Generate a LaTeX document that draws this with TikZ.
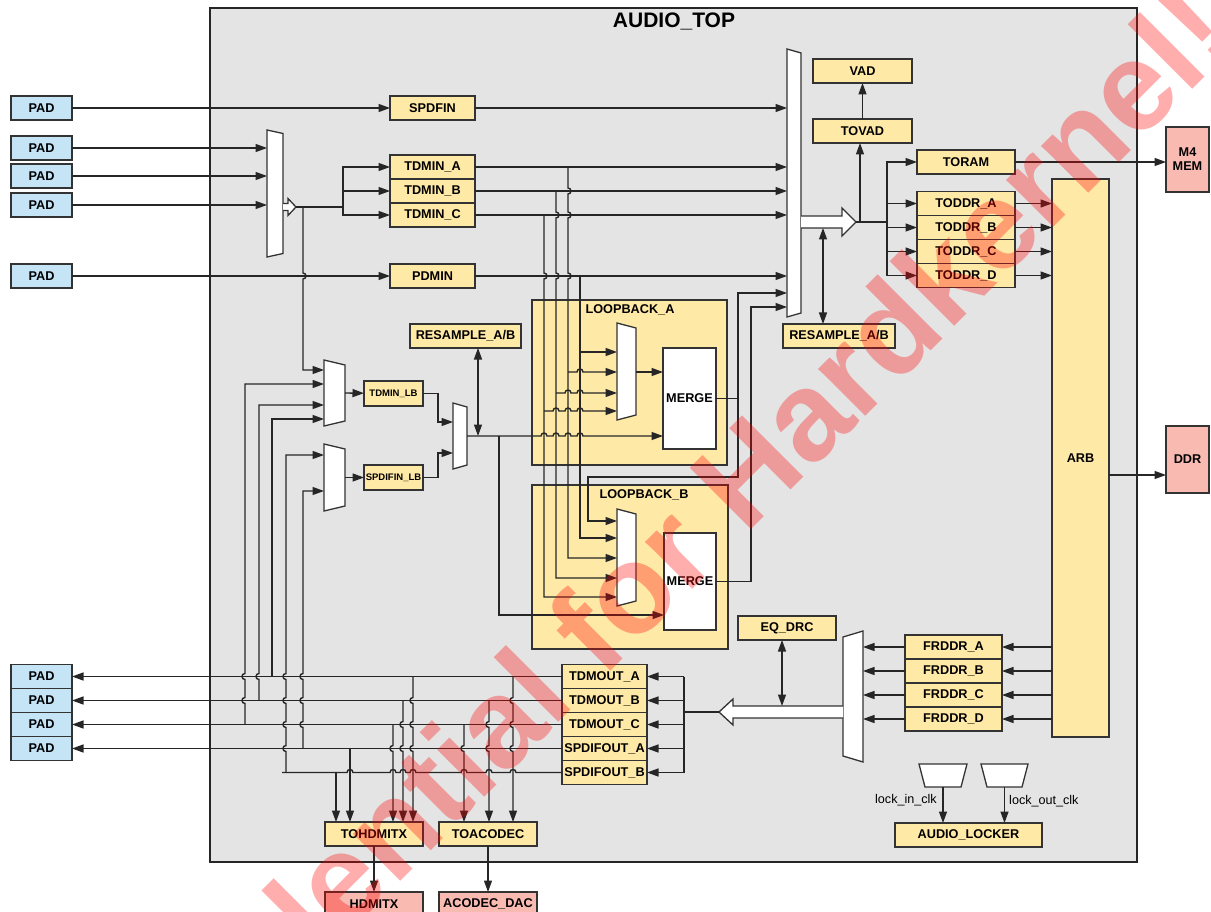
\documentclass[tikz,border=0pt]{standalone}
\usepackage{fontspec}
\setmainfont{Liberation Sans}
\usetikzlibrary{arrows.meta, positioning, calc}
\definecolor{auyellow}{HTML}{FFE9A6}
\definecolor{aublue}{HTML}{C5E4F6}
\definecolor{aupink}{HTML}{F9BAB2}
\definecolor{augray}{HTML}{E4E4E4}
\tikzset{
  au block/.style={
    rectangle, draw=black!80, line width=1.3pt, fill=auyellow,
    minimum width=85pt, minimum height=24pt, inner sep=0pt, outer sep=0pt,
    font=\bfseries\fontsize{12.7}{14}\selectfont, align=center
  },
  au pad/.style={au block, fill=aublue, minimum width=61pt},
  au ext/.style={au block, fill=aupink},
  au small/.style={
    au block, minimum width=59pt, minimum height=25pt,
    font=\bfseries\fontsize{9.5}{11}\selectfont
  },
  au frame/.style={rectangle, draw=black!85, line width=1.3pt, fill=augray, inner sep=0pt},
  au group/.style={rectangle, draw=black!80, line width=1.3pt, fill=auyellow, inner sep=0pt},
  au title/.style={font=\bfseries\fontsize{12.7}{14}\selectfont, inner sep=1pt},
  au label/.style={font=\fontsize{12.6}{14}\selectfont, inner sep=1pt},
  au box/.style={rectangle, inner sep=0pt, outer sep=0pt},
  au mux/.style={draw=black!80, line width=1.3pt, fill=white},
  au wire/.style={line width=1.4pt, draw=black!85},
  au arrow/.style={au wire, -{Triangle[length=11.5pt,width=8pt]}},
  au both/.style={au wire, {Triangle[length=11.5pt,width=8pt]}-{Triangle[length=11.5pt,width=8pt]}}
}
% mux outlines: long side left / right / top
\newcommand{\muxl}[2]{\draw[au mux] (#1.north west) -- ([yshift=-#2pt]#1.north east) -- ([yshift=#2pt]#1.south east) -- (#1.south west) -- cycle;}
\newcommand{\muxr}[2]{\draw[au mux] ([yshift=-#2pt]#1.north west) -- (#1.north east) -- (#1.south east) -- ([yshift=#2pt]#1.south west) -- cycle;}
\newcommand{\muxd}[2]{\draw[au mux] (#1.north west) -- (#1.north east) -- ([xshift=-#2pt]#1.south east) -- ([xshift=#2pt]#1.south west) -- cycle;}
% line jumps
\newcommand{\jdr}[2]{-- (#1,#2-3) .. controls (#1+4,#2-3) and (#1+4,#2+3) .. (#1,#2+3)}
\newcommand{\jdl}[2]{-- (#1,#2-3) .. controls (#1-4,#2-3) and (#1-4,#2+3) .. (#1,#2+3)}
\newcommand{\jul}[2]{-- (#1,#2+3) .. controls (#1-4,#2+3) and (#1-4,#2-3) .. (#1,#2-3)}
\newcommand{\jru}[2]{-- (#1-3,#2) .. controls (#1-3,#2-4) and (#1+3,#2-4) .. (#1+3,#2)}
\newcommand{\jlu}[2]{-- (#1+3,#2) .. controls (#1+3,#2-4) and (#1-3,#2-4) .. (#1-3,#2)}

\begin{document}
\begin{tikzpicture}[x=1pt, y=-1pt]
  \useasboundingbox (0,0) rectangle (1211,912);
  \node (audiotop) [au frame, minimum width=927pt, minimum height=854pt] at (673.5,435) {};
  \node (toptitle) [font=\bfseries\fontsize{21}{24}\selectfont] at (674,21) {AUDIO\_TOP};

  \node (lpbka) [au group, minimum width=195pt, minimum height=165pt] at (629.5,382.5) {};
  \node (lpbkb) [au group, minimum width=196pt, minimum height=164pt] at (630,567) {};
  \node (lpbkatitle) [au title] at (630,309.5) {LOOPBACK\_A};
  \node (lpbkbtitle) [au title] at (644,495) {LOOPBACK\_B};

  % pads
  \node (pada) [au pad] at (41.5,108) {PAD};
  \node (padb) [au pad] at (41.5,148) {PAD};
  \node (padc) [au pad] at (41.5,176) {PAD};
  \node (padd) [au pad] at (41.5,205) {PAD};
  \node (pade) [au pad] at (41.5,276) {PAD};
  \node (padf) [au pad] at (41.5,676.5) {PAD};
  \node (padg) [au pad, below=0pt of padf] {PAD};
  \node (padh) [au pad, below=0pt of padg] {PAD};
  \node (padi) [au pad, below=0pt of padh] {PAD};

  % inputs
  \node (spdfin) [au block] at (432.5,108) {SPDFIN};
  \node (tdmina) [au block] at (432.5,167) {TDMIN\_A};
  \node (tdminb) [au block, below=0pt of tdmina] {TDMIN\_B};
  \node (tdminc) [au block, below=0pt of tdminb] {TDMIN\_C};
  \node (pdmin) [au block] at (432.5,276) {PDMIN};

  % to ddr side
  \node (tovad) [au block, minimum width=99pt] at (862.5,131) {TOVAD};
  \node (vad) [au block, minimum width=99pt, above=36pt of tovad] {VAD};
  \node (toram) [au block, minimum width=98pt] at (966,162) {TORAM};
  \node (todda) [au block, minimum width=98pt] at (966,203.5) {TODDR\_A};
  \node (toddb) [au block, minimum width=98pt, below=0pt of todda] {TODDR\_B};
  \node (toddc) [au block, minimum width=98pt, below=0pt of toddb] {TODDR\_C};
  \node (toddd) [au block, minimum width=98pt, below=0pt of toddc] {TODDR\_D};
  \node (m4mem) [au ext, minimum width=43pt, minimum height=65pt] at (1187.5,159.5) {M4\\MEM};
  \node (arb) [au block, minimum width=57pt, minimum height=558pt] at (1080.5,458) {ARB};
  \node (ddr) [au ext, minimum width=43pt, minimum height=67pt] at (1187.5,459.5) {DDR};
  \node (resampr) [au block, minimum width=112pt] at (839,336) {RESAMPLE\_A/B};

  % loopback
  \node (resampl) [au block, minimum width=111pt] at (465.5,336) {RESAMPLE\_A/B};
  \node (tdminlb) [au small] at (393.5,393.5) {TDMIN\_LB};
  \node (spdiflb) [au small] at (393.5,477.5) {SPDIFIN\_LB};
  \node (mergea) [au block, fill=white, minimum width=53pt, minimum height=101pt] at (689.5,398.5) {MERGE};
  \node (mergeb) [au block, fill=white, minimum width=52pt, minimum height=97pt] at (690,581.5) {MERGE};

  % outputs
  \node (frdda) [au block, minimum width=97pt] at (953.5,647) {FRDDR\_A};
  \node (frddb) [au block, minimum width=97pt, below=0pt of frdda] {FRDDR\_B};
  \node (frddc) [au block, minimum width=97pt, below=0pt of frddb] {FRDDR\_C};
  \node (frddd) [au block, minimum width=97pt, below=0pt of frddc] {FRDDR\_D};
  \node (eqdrc) [au block, minimum width=98pt] at (787,628) {EQ\_DRC};
  \node (tdmouta) [au block] at (604.5,676.5) {TDMOUT\_A};
  \node (tdmoutb) [au block, below=0pt of tdmouta] {TDMOUT\_B};
  \node (tdmoutc) [au block, below=0pt of tdmoutb] {TDMOUT\_C};
  \node (spdifouta) [au block, below=0pt of tdmoutc] {SPDIFOUT\_A};
  \node (spdifoutb) [au block, below=0pt of spdifouta] {SPDIFOUT\_B};
  \node (tohdmitx) [au block, minimum width=98pt] at (374,834) {TOHDMITX};
  \node (toacodec) [au block, minimum width=98pt] at (488,834) {TOACODEC};
  \node (hdmitx) [au ext, minimum width=98pt] at (374,904) {HDMITX};
  \node (acodec) [au ext, minimum width=98pt] at (488,904) {ACODEC\_DAC};
  \node (locker) [au block, minimum width=147pt] at (968.5,835) {AUDIO\_LOCKER};
  \node (lockin) [au label, anchor=east] at (938,800) {lock\_in\_clk};
  \node (lockout) [au label, anchor=west] at (1008,801) {lock\_out\_clk};

  % muxes
  \node (tlmux) [au box, minimum width=16pt, minimum height=127pt] at (275,193.5) {};
  \node (bigmux) [au box, minimum width=14pt, minimum height=268pt] at (794,183) {};
  \node (outmux) [au box, minimum width=20pt, minimum height=131pt] at (853,696.5) {};
  \node (lbmuxa) [au box, minimum width=21pt, minimum height=66pt] at (334.5,393) {};
  \node (lbmuxb) [au box, minimum width=21pt, minimum height=67pt] at (334.5,477.5) {};
  \node (lbmuxc) [au box, minimum width=14pt, minimum height=66pt] at (460,436) {};
  \node (muxa) [au box, minimum width=19pt, minimum height=97pt] at (626.5,371.5) {};
  \node (muxb) [au box, minimum width=19pt, minimum height=97pt] at (626.5,557.5) {};
  \node (clkin) [au box, minimum width=48pt, minimum height=23pt] at (943,775.5) {};
  \node (clkout) [au box, minimum width=47pt, minimum height=23pt] at (1004.5,775.5) {};
  \muxl{tlmux}{3.5}
  \muxl{bigmux}{4}
  \muxr{outmux}{6}
  \muxl{lbmuxa}{5}
  \muxl{lbmuxb}{5}
  \muxl{lbmuxc}{4}
  \muxl{muxa}{5}
  \muxl{muxb}{5}
  \muxd{clkin}{6}
  \muxd{clkout}{6}
  \draw[au mux] (283,203.5) -- (288,203.5) -- (288,198.5) -- (296,207) -- (288,215.5) -- (288,210.5) -- (283,210.5);
  \draw[au mux] (801,216) -- (842,216) -- (842,208) -- (856,222) -- (842,236) -- (842,228) -- (801,228);
  \draw[au mux] (843,706) -- (733,706) -- (733,699) -- (719,712) -- (733,725) -- (733,718) -- (843,718);
  \coordinate (tlout) at (296,207);
  \coordinate (bigout) at (856,222);
  \coordinate (outtip) at (719,712);

  % input side
  \draw[au arrow] (pada) -- (spdfin);
  \draw[au arrow] (spdfin) -- (spdfin -| bigmux.west);
  \foreach \p in {padb,padc,padd}
    \draw[au arrow] (\p) -- (\p -| tlmux.west);
  \draw[au wire] (tlout) -- (343,207) coordinate (tlfork);
  \foreach \n in {tdmina,tdminb,tdminc}
    \draw[au arrow] (tlfork) |- (\n);
  \draw[au arrow] (pade) -- (pdmin);
  \foreach \n in {tdmina,tdminb,tdminc,pdmin}
    \draw[au arrow] (\n) -- (\n -| bigmux.west);
  \draw[au arrow] (303,207) \jdr{303}{276} |- (lbmuxa.west |- 0,370);

  % taps into loopback
  \draw[au arrow] (568,167) \jdr{568}{191} \jdr{568}{215} \jdr{568}{276} |- (muxb.west |- 0,558);
  \draw[au arrow] (556,191) \jdr{556}{215} \jdr{556}{276} |- (muxb.west |- 0,578);
  \draw[au arrow] (544,215) \jdr{544}{276} |- (muxb.west |- 0,597);
  \draw[au arrow] (580,276) |- (muxb.west |- 0,538);
  \draw[au arrow] (580,352) -- (muxa.west |- 0,352);
  \draw[au arrow] (568,372) \jru{580}{372} -- (muxa.west |- 0,372);
  \draw[au arrow] (556,393) \jru{568}{393} \jru{580}{393} -- (muxa.west |- 0,393);
  \draw[au arrow] (544,411) \jru{556}{411} \jru{568}{411} \jru{580}{411} -- (muxa.west |- 0,411);
  \draw[au arrow] (muxa.east |- 0,372) -- (mergea.west |- 0,372);
  \draw[au arrow] (lbmuxc.east) \jru{544}{436} \jru{556}{436} \jru{568}{436} \jru{580}{436} -- (mergea.west |- 0,436);
  \draw[au arrow] (499,436) |- (mergeb.west |- 0,615);
  \draw[au arrow] (mergea.east) -| (738,293) -- (bigmux.west |- 0,293);
  \draw[au arrow] (738,398) |- (588,477) |- (muxb.west |- 0,521);
  \draw[au arrow] (mergeb.east) -| (751,307) -- (bigmux.west |- 0,307);

  \draw[au arrow] (lbmuxa.east) -- (tdminlb);
  \draw[au arrow] (lbmuxb.east) -- (spdiflb);
  \draw[au arrow] (tdminlb) -| (438,422) -- (lbmuxc.west |- 0,422);
  \draw[au arrow] (spdiflb) -| (438,453) -- (lbmuxc.west |- 0,453);
  \draw[au both] (resampl.south -| 478,0) -- (478,436);

  % to ddr
  \draw[au wire] (bigout) -- (887,222);
  \draw[au arrow] (860,222) -- (tovad.south -| 860,0);
  \draw[au arrow] (tovad) -- (vad);
  \foreach \n in {toram,todda,toddb,toddc,toddd}
    \draw[au arrow] (887,222) |- (\n);
  \draw[au both] (823,228) -- (resampr.north -| 823,0);
  \draw[au arrow] (toram) -- (toram -| m4mem.west);
  \foreach \n in {todda,toddb,toddc,toddd}
    \draw[au arrow] (\n) -- (\n -| arb.west);
  \draw[au arrow] (arb.east |- 0,475) -- (ddr.west |- 0,475);

  % from ddr
  \foreach \n in {frdda,frddb,frddc,frddd}{
    \draw[au arrow] (arb.west |- \n) -- (\n);
    \draw[au arrow] (\n) -- (\n -| outmux.east);
  }
  \draw[au both] (eqdrc.south -| 782,0) -- (782,706);
  \draw[au wire] (outtip) -- (684,712);
  \draw[au wire] (684,676.5) -- (684,772.5);
  \foreach \n in {tdmouta,tdmoutb,tdmoutc,spdifouta,spdifoutb}
    \draw[au arrow] (684,0 |- \n) -- (\n);

  % out to pads and loop back
  \draw[au arrow] (tdmouta) -- (tdmouta -| padf.east);
  \draw[au arrow] (tdmoutb) -- (tdmoutb -| padg.east);
  \draw[au arrow] (tdmoutc) -- (tdmoutc -| padh.east);
  \draw[au arrow] (spdifouta) -- (spdifouta -| padi.east);
  \draw[au wire] (spdifoutb) \jlu{513}{772.5} \jlu{489}{772.5} \jlu{464}{772.5} \jlu{413}{772.5} \jlu{403}{772.5} \jlu{393}{772.5} \jlu{350}{772.5} -- (282,772.5);
  \draw[au arrow] (286,772.5) \jul{286}{748.5} \jul{286}{724.5} \jul{286}{700.5} \jul{286}{676.5} |- (lbmuxb.west |- 0,455);
  \draw[au arrow] (303,748.5) \jul{303}{724.5} \jul{303}{700.5} \jul{303}{676.5} |- (lbmuxb.west |- 0,491);
  \draw[au arrow] (245,724.5) \jul{245}{700.5} \jul{245}{676.5} |- (lbmuxa.west |- 0,384);
  \draw[au arrow] (259,700.5) \jul{259}{676.5} |- (lbmuxa.west |- 0,405);
  \draw[au arrow] (272,676.5) |- (lbmuxa.west |- 0,419);

  % to hdmitx / acodec
  \draw[au arrow] (336,772.5) -- (tohdmitx.north -| 336,0);
  \draw[au arrow] (350,748.5) -- (tohdmitx.north -| 350,0);
  \draw[au arrow] (393,724.5) \jdl{393}{748.5} -- (tohdmitx.north -| 393,0);
  \draw[au arrow] (403,700.5) \jdl{403}{724.5} \jdl{403}{748.5} -- (tohdmitx.north -| 403,0);
  \draw[au arrow] (413,676.5) \jdl{413}{700.5} \jdl{413}{724.5} \jdl{413}{748.5} -- (tohdmitx.north -| 413,0);
  \draw[au arrow] (464,724.5) \jdl{464}{748.5} -- (toacodec.north -| 464,0);
  \draw[au arrow] (489,700.5) \jdl{489}{724.5} \jdl{489}{748.5} -- (toacodec.north -| 489,0);
  \draw[au arrow] (513,676.5) \jdl{513}{700.5} \jdl{513}{724.5} \jdl{513}{748.5} -- (toacodec.north -| 513,0);
  \draw[au arrow] (tohdmitx) -- (hdmitx);
  \draw[au arrow] (toacodec) -- (acodec);

  % locker
  \draw[au arrow] (clkin.south) -- (clkin.south |- locker.north);
  \draw[au arrow] (clkout.south) -- (clkout.south |- locker.north);

  \node (wmark) [rotate=45, text=red, text opacity=0.32, font=\bfseries\fontsize{126}{126}\selectfont] at (620,598) {Confidential for Hardkernel!};
\end{tikzpicture}
\end{document}
